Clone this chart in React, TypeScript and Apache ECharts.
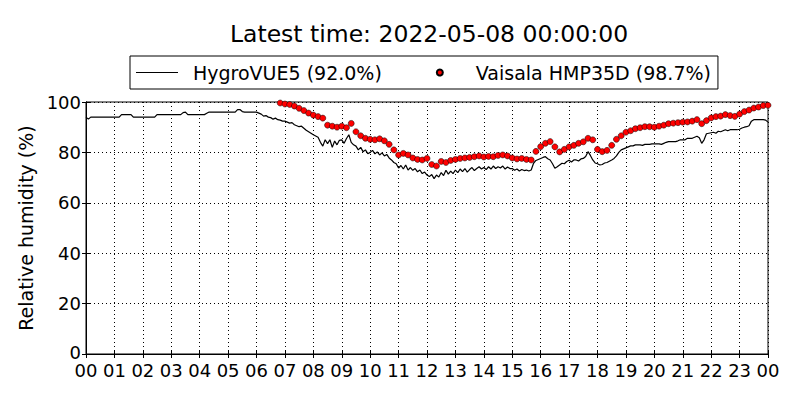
import React, { useEffect, useRef } from "react";
import * as echarts from "echarts";

// Hour tick labels (0..24)
const hourTicks: number[] = [0,1,2,3,4,5,6,7,8,9,10,11,12,13,14,15,16,17,18,19,20,21,22,23,24];
const yTicks: number[] = [0, 20, 40, 60, 80, 100];

// HygroVUE5, 5-minute samples from 00:00 to 24:00 (one row per hour)
const hygroStepMinutes = 5;
const hygroValues: number[] = [
  94, 93.2, 94, 94, 94, 94, 94, 94, 94, 94, 94, 94,
  94, 94, 94, 95, 95, 95, 95, 95, 94, 94, 94, 94,
  94, 94, 94, 94, 94, 94, 95, 95, 95, 95, 95, 95,
  95, 95, 95, 95, 95, 95.8, 96, 95, 95, 95, 95, 95,
  95, 95, 95, 95.5, 96, 96, 96, 96, 96, 96, 96, 96,
  96, 96, 96, 96, 97, 97, 96.2, 96, 96, 96, 96, 96,
  96, 95.6, 95.2, 94.4, 94.6, 94, 93.8, 93.2, 93.6, 93, 92.8, 92.4,
  92.4, 92, 91.6, 91.8, 91, 90.6, 90.2, 90.4, 89.6, 88.8, 88.2, 87.6,
  87, 86.5, 86, 84, 82.5, 85, 83.5, 85, 82, 84.5, 83, 84.8,
  85, 83.6, 85.5, 87, 84, 83, 82.5, 81, 82, 80.3, 81, 79.5,
  80, 80.8, 79.4, 80.2, 79, 79.8, 78.6, 79.2, 77.8, 77, 76, 75.5,
  73.8, 74.8, 73.4, 75, 73, 74, 72.9, 73.6, 72.3, 73, 71.6, 72.2,
  71, 70.4, 71.2, 69.6, 71, 70.2, 72, 70.8, 72.9, 71.4, 72.6, 71.6,
  73, 72, 73.4, 72.4, 73.6, 72.2, 73.2, 74, 72.8, 73.6, 74.3, 73.4,
  74, 73.2, 74.3, 73.4, 74.6, 73.6, 74.3, 73.8, 74.6, 73.4, 74.2, 73.6,
  73.6, 72.9, 73.4, 72.6, 73.2, 72.8, 73, 72.6, 73, 75.7, 76.8, 77.2,
  77.6, 78, 78.3, 77.5, 77, 75.5, 73.7, 74.3, 75, 75.7, 75.5, 76.4,
  76.9, 76.2, 77, 77, 76.6, 77.4, 77.6, 78.4, 80.3, 78.8, 77, 75.8,
  75.5, 75, 75.2, 75.8, 76, 76.5, 77, 77.6, 78.6, 80, 81, 81.4,
  81.8, 82.2, 82.6, 82.6, 83, 83, 83, 82.8, 83.2, 83.2, 83.2, 83.4,
  83.4, 83.4, 83.4, 83.2, 83.6, 84, 84.3, 84.3, 84.3, 84.3, 84.6, 85,
  85, 85, 85.6, 85.6, 85.6, 86, 86.4, 85.8, 83.6, 85, 87.4, 87.6,
  87.8, 88, 87.6, 88.4, 88.2, 88.6, 89, 88.6, 89, 89, 89, 89,
  89.2, 89.7, 90, 90.2, 90.6, 92.4, 93, 93, 93, 93, 93, 92.8,
  92,
];

// Vaisala HMP35D, 10-minute samples from 00:00 to 24:00 (null = not shown)
const vaisalaStepMinutes = 10;
const vaisalaValues: (number | null)[] = [
  null, null, null, null, null, null,
  null, null, null, null, null, null,
  null, null, null, null, null, null,
  null, null, null, null, null, null,
  null, null, null, null, null, null,
  null, null, null, null, null, null,
  null, null, null, null, null, 99.6,
  99.2, 99, 98.4, 97.5, 96.6, 95.6,
  94.8, 94.2, 93.6, 90.8, 90.4, 90,
  90.4, 89.8, 91.5, 88.2, 86.6, 85.6,
  85.2, 85, 85.4, 84.6, 83.2, 81,
  79, 79.6, 79, 77.8, 77.2, 77,
  77.6, 75.2, 74.6, 76.4, 76, 76.8,
  77.2, 77.6, 77.8, 78, 78.3, 78.6,
  78.2, 78.4, 78.3, 78.8, 79, 78.6,
  77.8, 77.4, 77.6, 77.2, 77, 80.4,
  82.3, 83.6, 84.3, 82.2, 80.2, 81.2,
  82.2, 82.8, 83.6, 84.2, 85.6, 85,
  81.2, 80.3, 80.8, 82.8, 85.2, 86.6,
  88, 88.6, 89.4, 89.8, 90.2, 90.2,
  90, 90.4, 90.8, 91.4, 91.6, 91.8,
  92, 92.1, 92.4, 93, 91.4, 92.6,
  93.7, 94.2, 94.4, 95, 94.6, 94.3,
  95.2, 96.2, 96.8, 97.6, 98, 98.6,
  98.7,
];

const hygroName = "HygroVUE5 (92.0%)";
const vaisalaName = "Vaisala HMP35D (98.7%)";
const titleText = "Latest time: 2022-05-08 00:00:00";
const yLabel = "Relative humidity (%)";

const FONT = "DejaVu Sans";

export default function App() {
  const ref = useRef<HTMLDivElement>(null);

  useEffect(() => {
    if (!ref.current) return;
    const chart = echarts.init(ref.current, null, { renderer: "svg" });

    const hygroData = hygroValues.map((v, i) => [(i * hygroStepMinutes) / 60, v]);
    const vaisalaData = vaisalaValues
      .map((v, i) => (v === null ? null : [(i * vaisalaStepMinutes) / 60, v]))
      .filter((d) => d !== null);

    const dotted = { color: "#000", width: 1, type: [1, 3] as any };
    const tickStyle = { show: true, inside: true, length: 4, lineStyle: { color: "#000", width: 1 } };

    chart.setOption({
      animation: false,
      backgroundColor: "#fff",
      title: {
        text: titleText,
        left: 424,
        top: 17,
        textAlign: "center",
        textStyle: { fontFamily: FONT, fontSize: 23.5, fontWeight: "normal", color: "#000" },
      },
      legend: {
        left: 130,
        top: 56,
        padding: [7, 7, 7, 6],
        borderColor: "#000",
        borderWidth: 1,
        borderRadius: 0,
        itemWidth: 42,
        itemHeight: 6,
        itemGap: 54,
        textStyle: { fontFamily: FONT, fontSize: 19, color: "#000", padding: [0, 0, 0, 10] },
        data: [
          { name: hygroName, icon: "path://M0,0L42,0L42,1.2L0,1.2Z" },
          { name: vaisalaName },
        ],
      },
      grid: { left: 86, right: 32, top: 102, bottom: 46, show: true, borderColor: "#000", borderWidth: 1, backgroundColor: "transparent" },
      xAxis: [
        {
          type: "value",
          min: 0,
          max: 24,
          interval: 1,
          data: hourTicks,
          axisLine: { show: true, lineStyle: { color: "#000", width: 1 } },
          axisTick: tickStyle,
          axisLabel: {
            margin: 9,
            fontFamily: FONT,
            fontSize: 18,
            lineHeight: 14,
            color: "#000",
            formatter: (v: number) => String(v % 24).padStart(2, "0"),
          },
          splitLine: { show: true, lineStyle: dotted },
        },
        {
          type: "value",
          position: "top",
          min: 0,
          max: 24,
          interval: 1,
          axisLine: { show: true, lineStyle: { color: "#000", width: 1 } },
          axisTick: tickStyle,
          axisLabel: { show: false },
          splitLine: { show: false },
        },
      ],
      yAxis: [
        {
          type: "value",
          min: yTicks[0],
          max: yTicks[yTicks.length - 1],
          interval: 20,
          name: yLabel,
          nameLocation: "middle",
          nameGap: 50,
          nameRotate: 90,
          nameTextStyle: { fontFamily: FONT, fontSize: 19, color: "#000" },
          axisLine: { show: true, lineStyle: { color: "#000", width: 1 } },
          axisTick: tickStyle,
          axisLabel: {
            margin: 5,
            fontFamily: FONT,
            fontSize: 18,
            lineHeight: 12,
            color: "#000",
            formatter: (v: number) => (v === 0 ? "{z|0}" : String(v)),
            rich: {
              z: { fontFamily: FONT, fontSize: 18, lineHeight: 12, color: "#000", padding: [0, 0, 3, 0] },
            },
          },
          splitLine: { show: true, lineStyle: dotted },
        },
        {
          type: "value",
          position: "right",
          min: yTicks[0],
          max: yTicks[yTicks.length - 1],
          interval: 20,
          axisLine: { show: true, lineStyle: { color: "#000", width: 1 } },
          axisTick: tickStyle,
          axisLabel: { show: false },
          splitLine: { show: false },
        },
      ],
      series: [
        {
          name: hygroName,
          type: "line",
          data: hygroData,
          symbol: "none",
          lineStyle: { color: "#000", width: 1.2 },
          itemStyle: { color: "#000" },
          clip: true,
          z: 2,
        },
        {
          name: vaisalaName,
          type: "scatter",
          data: vaisalaData,
          symbol: "circle",
          symbolSize: 6,
          itemStyle: { color: "#ff0000", borderColor: "#000", borderWidth: 0.5, opacity: 1 },
          clip: true,
          z: 3,
        },
      ],
    });

    return () => chart.dispose();
  }, []);

  return (
    <div
      ref={ref}
      style={{ position: "fixed", left: 0, top: 0, width: 800, height: 400, background: "#fff" }}
    />
  );
}
